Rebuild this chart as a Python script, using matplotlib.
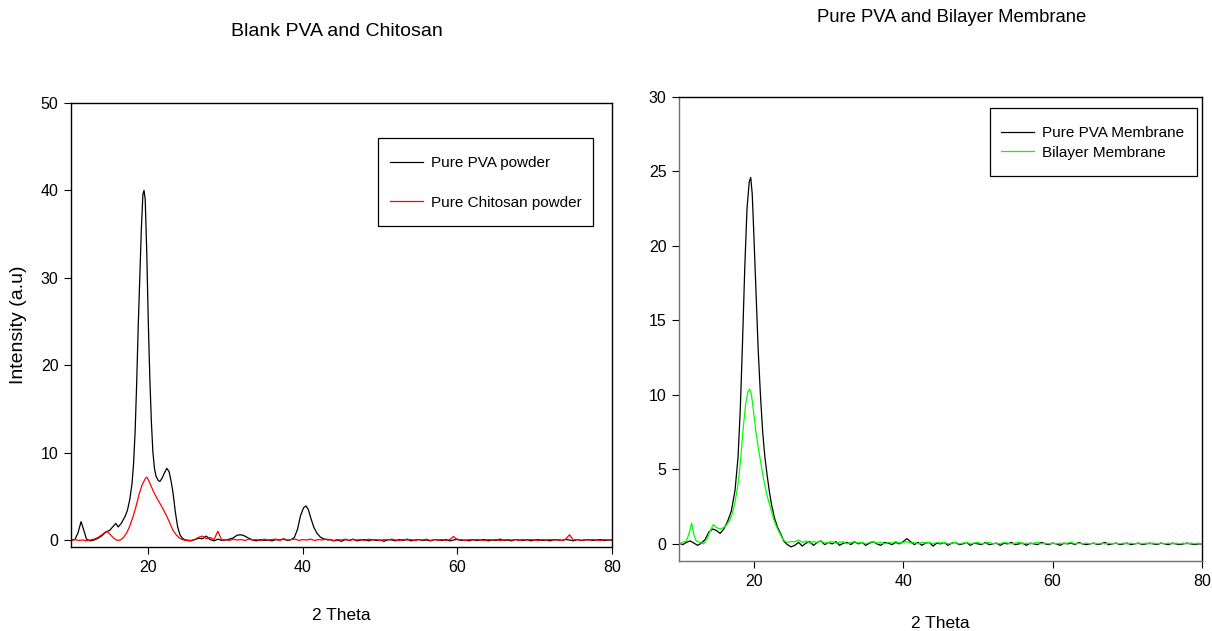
import numpy as np
import matplotlib
matplotlib.use("Agg")
import matplotlib.pyplot as plt
from matplotlib.patches import Rectangle

plt.rcParams['font.family'] = ['Liberation Sans', 'DejaVu Sans']

# ---------------- Blank PVA and Chitosan ----------------
# Pure PVA powder: peak region (2 theta, intensity)
pva_powder_theta = [10.0, 10.5, 10.9, 11.3, 11.7, 12.0, 12.5, 13.0, 13.5, 14.0,
                    14.5, 15.0, 15.5, 15.8, 16.1, 16.5, 17.0, 17.3, 17.6, 17.9,
                    18.1, 18.3, 18.5, 18.7, 18.9, 19.1, 19.3, 19.45, 19.6, 19.8,
                    20.0, 20.2, 20.4, 20.6, 20.8, 21.0, 21.3, 21.5, 21.8, 22.1,
                    22.4, 22.7, 23.0, 23.2, 23.5, 23.8, 24.1, 24.4, 24.8, 25.3]
pva_powder_int = [0.0, 0.05, 0.8, 2.1, 1.0, 0.1, -0.1, 0.0, 0.2, 0.5,
                  0.9, 1.1, 1.6, 1.9, 1.5, 1.9, 2.7, 3.4, 4.6, 6.5,
                  8.8, 12.5, 18.0, 24.5, 30.0, 35.5, 39.5, 40.0, 39.0, 33.0,
                  25.0, 18.5, 13.5, 10.0, 8.2, 7.3, 6.8, 6.7, 7.1, 7.7,
                  8.2, 7.8, 6.5, 5.4, 3.2, 1.5, 0.6, 0.2, 0.0, -0.1]
# Pure PVA powder: baseline sampled every 0.5 deg from 25.5 to 38.0
pva_powder_base1_start = 25.5
pva_powder_base1 = [-0.1, 0.05, 0.2, 0.15, 0.45, 0.05, -0.1, 0.1, -0.05, 0.0,
                    0.1, 0.25, 0.55, 0.6, 0.45, 0.2, 0.0, -0.1, 0.05, -0.05,
                    0.0, -0.1, 0.05, 0.0, 0.1, -0.05]
# Pure PVA powder: reflection near 40 deg
pva_powder_theta2 = [38.5, 38.9, 39.3, 39.7, 40.1, 40.4, 40.7, 41.0, 41.4, 41.8,
                     42.3, 42.8, 43.3]
pva_powder_int2 = [0.05, 0.3, 1.2, 2.8, 3.7, 3.9, 3.5, 2.6, 1.5, 0.8,
                   0.3, 0.1, 0.0]
# Pure PVA powder: baseline sampled every 0.5 deg from 43.5 to 80.0
pva_powder_base2_start = 43.5
pva_powder_base2 = [0.05, -0.1, 0.0, -0.15, 0.05, -0.05, 0.1, -0.1, 0.0, 0.05,
                    -0.1, 0.05, -0.05, 0.0, -0.15, 0.05, 0.0, -0.1, 0.05, -0.05,
                    0.1, -0.1, 0.0, 0.05, -0.05, 0.0, -0.1, 0.05, 0.0, -0.05,
                    0.05, -0.1, 0.0, 0.1, -0.05, 0.0, -0.1, 0.05, -0.05, 0.0,
                    0.05, -0.1, 0.0, -0.05, 0.1, -0.05, 0.0, -0.1, 0.05, 0.0,
                    -0.05, 0.05, -0.1, 0.0, 0.05, -0.05, 0.0, -0.1, 0.05, 0.0,
                    -0.05, 0.05, 0.0, -0.1, 0.05, -0.05, 0.0, 0.05, -0.05, 0.0,
                    0.05, -0.05, 0.0, 0.0]

# Pure Chitosan powder: peak region
chitosan_theta = [10.0, 10.5, 11.0, 11.5, 12.0, 12.5, 13.0, 13.5, 14.0, 14.3,
                  14.6, 14.9, 15.2, 15.6, 16.0, 16.4, 16.8, 17.2, 17.6, 18.0,
                  18.4, 18.8, 19.2, 19.6, 19.8, 20.0, 20.3, 20.7, 21.1, 21.5,
                  22.0, 22.4, 22.8, 23.2, 23.6, 24.0, 24.4, 24.8]
chitosan_int = [-0.05, 0.05, -0.05, 0.0, -0.1, 0.0, 0.1, 0.3, 0.6, 0.8,
                1.0, 0.8, 0.5, 0.15, -0.05, 0.0, 0.3, 0.8, 1.6, 2.6,
                3.8, 5.2, 6.3, 7.0, 7.2, 6.9, 6.3, 5.5, 4.8, 4.2,
                3.4, 2.7, 1.9, 1.1, 0.6, 0.25, 0.05, -0.05]
# Pure Chitosan powder: baseline sampled every 0.5 deg from 25.0 to 80.0
chitosan_base_start = 25.0
chitosan_base = [0.0, -0.05, 0.05, 0.3, 0.45, 0.15, 0.3, 0.05, 1.0, 0.0,
                 0.05, -0.05, 0.1, 0.0, 0.05, -0.05, 0.1, 0.0, 0.05, -0.05,
                 0.1, 0.0, 0.05, 0.1, -0.05, 0.15, 0.0, 0.05, 0.1, -0.05,
                 0.05, 0.0, 0.1, -0.05, 0.05, 0.0, 0.1, 0.05, -0.05, 0.05,
                 0.0, 0.1, -0.05, 0.05, 0.0, 0.05, -0.05, 0.1, 0.0, 0.05,
                 -0.05, 0.05, 0.0, 0.1, 0.0, -0.05, 0.05, 0.0, 0.05, -0.05,
                 0.05, 0.0, 0.1, -0.05, 0.05, 0.0, 0.05, -0.05, 0.05, 0.4,
                 0.0, 0.05, -0.05, 0.05, 0.0, 0.05, 0.0, -0.05, 0.05, 0.0,
                 0.05, -0.05, 0.0, 0.05, 0.0, 0.05, -0.05, 0.05, 0.0, 0.05,
                 0.0, -0.05, 0.05, 0.0, 0.05, 0.0, 0.05, -0.05, 0.1, 0.6,
                 0.0, 0.05, -0.05, 0.05, 0.0, 0.05, 0.0, -0.05, 0.05, 0.0, 0.05]

# ---------------- Pure PVA and Bilayer Membrane ----------------
pva_membrane_theta = [10.0, 10.5, 11.0, 11.5, 12.0, 12.5, 13.0, 13.5, 14.0, 14.5,
                      15.0, 15.5, 16.0, 16.5, 17.0, 17.5, 17.9, 18.2, 18.5, 18.8,
                      19.1, 19.4, 19.6, 19.8, 20.0, 20.3, 20.6, 20.9, 21.2, 21.5,
                      21.8, 22.1, 22.4, 22.8, 23.2, 23.6, 24.0, 24.5, 25.0, 25.5]
pva_membrane_int = [0.05, -0.05, 0.1, 0.2, 0.05, -0.1, 0.05, 0.3, 0.8, 1.0,
                    0.9, 0.7, 1.0, 1.5, 2.2, 3.6, 5.8, 9.0, 13.5, 18.5,
                    22.5, 24.3, 24.6, 23.5, 21.0, 17.0, 13.0, 10.0, 7.5, 5.8,
                    4.6, 3.5, 2.6, 1.7, 1.1, 0.7, 0.2, -0.05, -0.2, -0.1]
# baseline sampled every 0.5 deg from 26.0 to 80.0
pva_membrane_base_start = 26.0
pva_membrane_base = [0.1, -0.15, 0.05, 0.15, -0.1, 0.1, 0.2, -0.05, 0.1, 0.0,
                     0.15, -0.1, 0.05, 0.1, -0.05, 0.15, 0.0, 0.1, -0.1, 0.05,
                     0.15, 0.0, -0.1, 0.1, 0.05, -0.05, 0.1, 0.0, 0.15, 0.35,
                     0.15, -0.05, 0.1, -0.1, 0.05, 0.1, -0.15, 0.05, 0.0, 0.1,
                     -0.1, 0.05, 0.1, -0.05, 0.0, 0.1, -0.1, 0.05, 0.0, -0.05,
                     0.1, -0.05, 0.0, 0.05, -0.1, 0.05, 0.0, 0.1, -0.05, 0.0,
                     0.05, -0.1, 0.05, 0.0, -0.05, 0.1, 0.0, -0.05, 0.05, 0.0,
                     -0.1, 0.05, 0.0, 0.05, -0.05, 0.1, 0.0, -0.05, 0.0, 0.05,
                     -0.05, 0.0, 0.1, -0.05, 0.0, 0.05, -0.05, 0.0, 0.05, -0.05,
                     0.0, 0.05, -0.05, 0.0, 0.05, 0.0, -0.05, 0.05, 0.0, -0.05,
                     0.05, 0.0, -0.05, 0.0, 0.05, 0.0, -0.05, 0.0, 0.0]

bilayer_theta = [10.0, 10.5, 11.0, 11.4, 11.7, 12.0, 12.3, 12.8, 13.3, 13.8,
                 14.2, 14.6, 15.0, 15.5, 16.0, 16.4, 16.8, 17.1, 17.5, 17.8,
                 18.0, 18.3, 18.6, 18.9, 19.2, 19.45, 19.7, 20.0, 20.3, 20.6,
                 20.9, 21.3, 21.7, 22.2, 22.7, 23.1, 23.5, 23.8, 24.1, 24.5, 25.0]
bilayer_int = [0.0, 0.1, 0.2, 0.8, 1.4, 0.6, 0.2, 0.1, 0.0, 0.4,
               0.9, 1.3, 1.1, 1.0, 1.1, 1.3, 1.6, 2.0, 2.8, 3.7,
               4.4, 6.0, 7.8, 9.3, 10.2, 10.4, 10.0, 8.8, 7.5, 6.5,
               5.6, 4.4, 3.4, 2.5, 1.6, 1.1, 0.7, 0.4, 0.2, 0.1, 0.15]
# baseline sampled every 0.5 deg from 25.5 to 80.0
bilayer_base_start = 25.5
bilayer_base = [0.15, 0.25, 0.1, 0.2, 0.05, 0.15, 0.1, 0.2, 0.05, 0.1,
                0.15, 0.05, 0.1, 0.15, 0.0, 0.1, 0.15, 0.05, 0.1, 0.0,
                0.1, 0.15, 0.05, 0.1, 0.0, 0.1, 0.05, 0.15, 0.05, 0.1,
                0.15, 0.05, 0.1, 0.0, 0.1, 0.05, 0.1, 0.0, 0.1, 0.05,
                0.1, 0.0, 0.05, 0.1, 0.0, 0.05, 0.1, 0.0, 0.05, 0.1,
                0.0, 0.05, 0.1, 0.0, 0.05, 0.0, 0.1, 0.05, 0.0, 0.05,
                0.1, 0.0, 0.05, 0.0, 0.05, 0.1, 0.0, 0.05, 0.0, 0.05,
                0.0, 0.05, 0.0, 0.05, 0.1, 0.0, 0.05, 0.0, 0.05, 0.0,
                0.05, 0.0, 0.05, 0.0, 0.05, 0.0, 0.05, 0.0, 0.05, 0.0,
                0.05, 0.0, 0.05, 0.0, 0.05, 0.0, 0.05, 0.0, 0.05, 0.0,
                0.05, 0.0, 0.05, 0.0, 0.05, 0.0, 0.05, 0.0, 0.05, 0.0]

left_xticks = [20, 40, 60, 80]
left_yticks = [0, 10, 20, 30, 40, 50]
right_xticks = [20, 40, 60, 80]
right_yticks = [0, 5, 10, 15, 20, 25, 30]


def sampled(start, values, step=0.5):
    return start + step * np.arange(len(values)), np.asarray(values, dtype=float)


def join(*parts):
    xs = np.concatenate([np.asarray(p[0], dtype=float) for p in parts])
    ys = np.concatenate([np.asarray(p[1], dtype=float) for p in parts])
    return xs, ys


pva_powder = join((pva_powder_theta, pva_powder_int),
                  sampled(pva_powder_base1_start, pva_powder_base1),
                  (pva_powder_theta2, pva_powder_int2),
                  sampled(pva_powder_base2_start, pva_powder_base2))
chitosan = join((chitosan_theta, chitosan_int),
                sampled(chitosan_base_start, chitosan_base))
pva_membrane = join((pva_membrane_theta, pva_membrane_int),
                    sampled(pva_membrane_base_start, pva_membrane_base))
bilayer = join((bilayer_theta, bilayer_int),
               sampled(bilayer_base_start, bilayer_base))

W, H = 1212, 631
fig = plt.figure(figsize=(W / 100, H / 100), dpi=100)


def px_axes(x0, x1, y0, y1):
    return fig.add_axes([x0 / W, 1 - y1 / H, (x1 - x0) / W, (y1 - y0) / H])


def style(ax, spine_color_lb):
    ax.tick_params(direction='out', length=5, width=0.8, labelsize=11.5,
                   top=False, right=False, pad=4)
    for side in ('left', 'bottom'):
        ax.spines[side].set_color(spine_color_lb)
        ax.spines[side].set_linewidth(1.0)
    for side in ('top', 'right'):
        ax.spines[side].set_color('black')
        ax.spines[side].set_linewidth(1.0)


def boxed_legend(ax, anchor, box, spacing):
    leg = ax.legend(loc='center left', bbox_to_anchor=anchor, borderaxespad=0,
                    borderpad=0, fontsize=11, frameon=False, labelspacing=spacing,
                    handlelength=2.15, handletextpad=0.55)
    ax.add_patch(Rectangle(box[:2], box[2], box[3], transform=ax.transAxes,
                           fill=False, edgecolor='black', linewidth=0.9,
                           zorder=5, clip_on=False))
    return leg


# left panel
ax1 = px_axes(71, 612, 103, 547)
ax1.plot(*pva_powder, color='black', lw=0.9, label='Pure PVA powder')
ax1.plot(*chitosan, color='#ff0000', lw=0.9, label='Pure Chitosan powder')
ax1.set_xlim(10, 80)
ax1.set_ylim(-0.8, 50)
ax1.set_xticks(left_xticks)
ax1.set_yticks(left_yticks)
style(ax1, 'black')
ax1.set_xlabel('2 Theta', fontsize=12.5, labelpad=24)
ax1.set_ylabel('Intensity (a.u)', fontsize=14, labelpad=10)
boxed_legend(ax1, (0.5896, 0.8198), (0.5675, 0.723, 0.397, 0.198), 1.65)

# right panel
ax2 = px_axes(679, 1202, 97, 561)
ax2.plot(*pva_membrane, color='black', lw=0.9, label='Pure PVA Membrane')
ax2.plot(*bilayer, color='#00ff00', lw=0.9, label='Bilayer Membrane')
ax2.set_xlim(10, 80)
ax2.set_ylim(-1.15, 30)
ax2.set_xticks(right_xticks)
ax2.set_yticks(right_yticks)
style(ax2, '#707070')
ax2.set_xlabel('2 Theta', fontsize=12.5, labelpad=20)
boxed_legend(ax2, (0.6157, 0.9009), (0.5946, 0.8297, 0.3958, 0.1466), 0.33)

fig.text(337 / W, 1 - 32 / H, 'Blank PVA and Chitosan', ha='center', va='center', fontsize=14)
fig.text(952 / W, 1 - 18 / H, 'Pure PVA and Bilayer Membrane', ha='center', va='center', fontsize=13.3)

fig.savefig('out.png', dpi=100, facecolor='white')
